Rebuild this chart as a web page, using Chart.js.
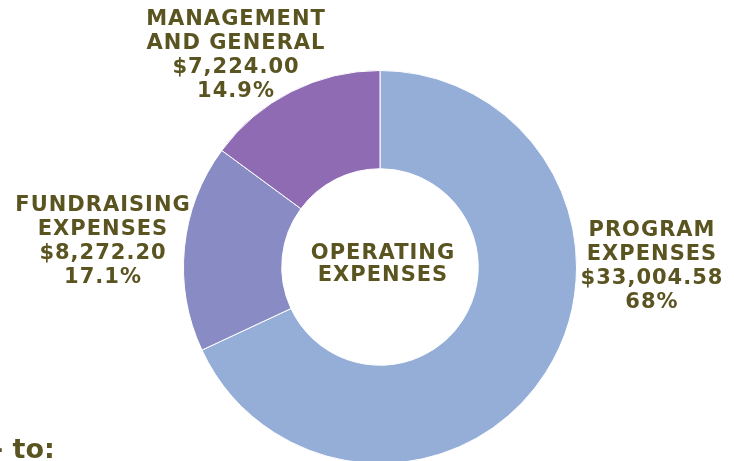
<!DOCTYPE html>
<html>
<head>
<meta charset="utf-8">
<script src="https://cdn.jsdelivr.net/npm/chart.js@4"></script>
<style>
  html, body { margin: 0; padding: 0; background: #fff; }
  #wrap { width: 734px; height: 461px; overflow: hidden; position: relative; }
  canvas { display: block; }
</style>
</head>
<body>
<div id="wrap"><canvas id="chart" width="734" height="480"></canvas></div>
<script>
// ---- data ----
const categories   = ['PROGRAM\nEXPENSES', 'FUNDRAISING\nEXPENSES', 'MANAGEMENT\nAND GENERAL'];
const amounts      = [33004.58, 8272.20, 7224.00];
const percentTexts = ['68%', '17.1%', '14.9%'];
const centerTitle  = ['OPERATING', 'EXPENSES'];

const sliceColors = ['#94aed8', '#898cc4', '#8e6bb3'];
const TEXT = '#5a5421';
const FONT = 'bold 21px "DejaVu Sans", Verdana, sans-serif';

// where each label block sits (centre x, first line centre y)
const labelPos = [
  { x: 652, y: 231 },
  { x: 103, y: 206 },
  { x: 236, y: 20 },
];

const money = v => '$' + v.toLocaleString('en-US', { minimumFractionDigits: 2, maximumFractionDigits: 2 });

const labelPlugin = {
  id: 'labels',
  afterDraw(chart) {
    const { ctx } = chart;
    const arc = chart.getDatasetMeta(0).data[0];
    ctx.save();
    ctx.fillStyle = TEXT;
    ctx.font = FONT;
    ctx.letterSpacing = '1px';
    ctx.textAlign = 'center';
    ctx.textBaseline = 'middle';

    categories.forEach((name, i) => {
      const lines = name.split('\n').concat([money(amounts[i]), percentTexts[i]]);
      lines.forEach((t, j) => ctx.fillText(t, labelPos[i].x, labelPos[i].y + j * 24));
    });

    // centre of the ring
    centerTitle.forEach((t, j) => ctx.fillText(t, arc.x + 3, arc.y - 13 + j * 22));

    // cut-off text at the bottom left
    ctx.font = 'bold 27px "DejaVu Sans", Verdana, sans-serif';
    ctx.letterSpacing = '0px';
    ctx.textAlign = 'left';
    ctx.textBaseline = 'alphabetic';
    ctx.fillText('- to:', -8, 458);
    ctx.restore();
  }
};

new Chart(document.getElementById('chart'), {
  type: 'doughnut',
  data: {
    labels: categories,
    datasets: [{
      data: amounts,
      backgroundColor: sliceColors,
      borderColor: '#ffffff',
      borderWidth: 1,
    }],
  },
  options: {
    responsive: false,
    animation: false,
    cutout: '50%',
    layout: { padding: { left: 183, right: 157, top: 70, bottom: 16 } },
    plugins: {
      legend: { display: false },
      tooltip: { enabled: false },
    },
  },
  plugins: [labelPlugin],
});
</script>
</body>
</html>
